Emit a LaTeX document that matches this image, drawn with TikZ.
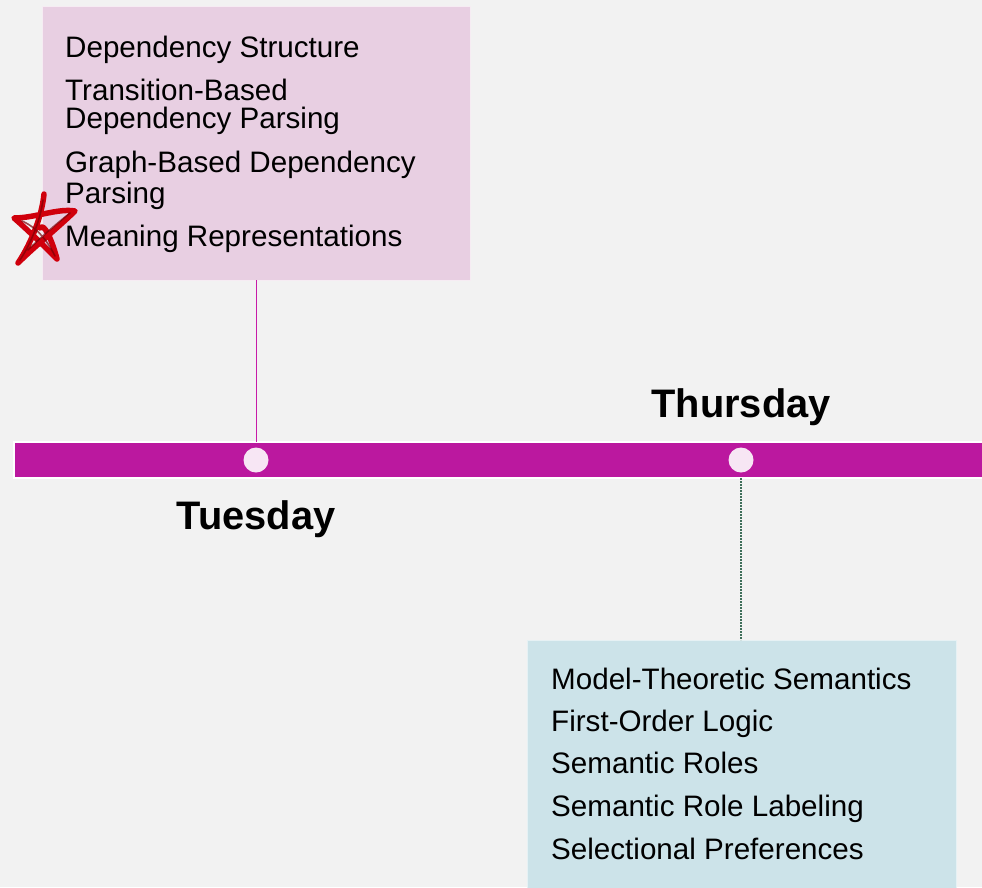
\documentclass[tikz,border=0pt]{standalone}
\usepackage{fontspec}
\setmainfont{Liberation Sans}
\definecolor{canvas}{HTML}{F2F2F2}
\definecolor{tuebox}{HTML}{E8CFE2}
\definecolor{thubox}{HTML}{CCE3E9}
\definecolor{barcol}{HTML}{BB189F}
\definecolor{dotcol}{HTML}{F7E6F4}
\definecolor{tueline}{HTML}{C71BA8}
\definecolor{thuline}{HTML}{3F6F5A}
\definecolor{starred}{HTML}{D0000C}
\definecolor{stardark}{HTML}{7A0006}
\begin{document}
\begin{tikzpicture}[x=1pt,y=-1pt,
  panel/.style={draw=none,anchor=north west,inner sep=0pt,outer sep=0pt},
  item/.style={anchor=base west,inner sep=0pt,font=\fontsize{29.6}{31}\selectfont},
  day/.style={anchor=base,inner sep=0pt,font=\fontsize{39.8}{42}\selectfont\bfseries},
  dot/.style={circle,fill=dotcol,inner sep=0pt,minimum size=25pt}]
\useasboundingbox (0,0) rectangle (982,887);
\fill[canvas] (0,0) rectangle (982,887);

% topic panels
\node[panel,fill=tuebox,draw=white!60!tuebox,line width=1pt,minimum width=428pt,minimum height=274pt] (tue) at (42,6) {};
\node[panel,fill=thubox,draw=white!50!thubox,line width=1pt,minimum width=429pt,minimum height=250pt] (thu) at (527,640) {};

% timeline bar
\node[panel,fill=barcol,draw=white,line width=1.5pt,minimum width=975pt,minimum height=36pt] (bar) at (14,442) {};
\node[dot] (d1) at (256,460) {};
\node[dot] (d2) at (741,460) {};

% connectors
\draw[tueline,line width=1pt] (tue.south -| d1) -- (bar.north -| d1);
\draw[thuline,line width=1.2pt,dash pattern=on 2pt off 1pt] (bar.south -| d2) -- (thu.north -| d2);

% day labels
\node[day] (lthu) at (741,417) {Thursday};
\node[day] (ltue) at (256,529) {Tuesday};

% Tuesday topics
\node[item] (t1) at (65,57) {Dependency Structure};
\node[item] (t2) at (65,100) {Transition-Based};
\node[item] (t2b) at (65,128) {Dependency Parsing};
\node[item] (t3) at (65,172) {Graph-Based Dependency};
\node[item] (t3b) at (65,203) {Parsing};
\node[item] (t4) at (65,246) {Meaning Representations};

% Thursday topics
\node[item] (h1) at (551,689) {Model-Theoretic Semantics};
\node[item] (h2) at (551,731) {First-Order Logic};
\node[item] (h3) at (551,773) {Semantic Roles};
\node[item] (h4) at (551,816) {Semantic Role Labeling};
\node[item] (h5) at (551,859) {Selectional Preferences};

% hand-drawn star mark
\draw[starred,line width=5.5pt,line cap=round,line join=round]
  (44,194) .. controls (42,215) and (32,242) .. (18,263)
  .. controls (35,246) and (60,226) .. (75,211)
  .. controls (58,208) and (35,218) .. (14,218)
  .. controls (30,232) and (46,248) .. (57,259)
  .. controls (52,240) and (44,222) .. (40,228);
\draw[stardark,line width=1.6pt,line cap=round,opacity=0.7]
  (43,200) .. controls (40,222) and (30,245) .. (20,260)
  (22,221) .. controls (38,228) and (48,242) .. (55,256)
  (70,213) .. controls (55,225) and (40,238) .. (28,250);
\end{tikzpicture}
\end{document}
